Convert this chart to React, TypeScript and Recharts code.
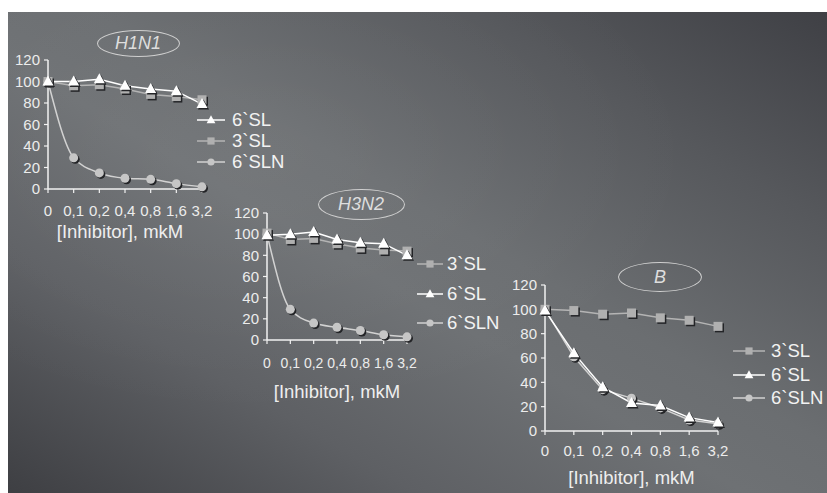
import { Line, LineChart, XAxis, YAxis } from "recharts";

const concentrations = ["0", "0,1", "0,2", "0,4", "0,8", "1,6", "3,2"];
const yTicks = [0, 20, 40, 60, 80, 100, 120];

// H1N1
const h1n1Sl6 = [100, 100, 102, 96, 93, 91, 79];
const h1n1Sl3 = [100, 96, 97, 93, 88, 86, 83];
const h1n1Sln6 = [100, 29, 15, 10, 9, 5, 2];

// H3N2
const h3n2Sl3 = [101, 95, 96, 91, 87, 85, 84];
const h3n2Sl6 = [99, 100, 102, 95, 92, 91, 80];
const h3n2Sln6 = [100, 29, 16, 12, 9, 5, 3];

// B
const bSl3 = [100, 99, 96, 97, 93, 91, 86];
const bSl6 = [99, 64, 36, 23, 21, 11, 7];
const bSln6 = [100, 61, 34, 27, 19, 9, 6];

const FONT = '"Liberation Sans", Arial, Helvetica, sans-serif';
const SHADOW = "#232427";

type Shape = "triangle" | "square" | "circle";
type SeriesKey = "sl6" | "sl3" | "sln6";

const seriesStyle: Record<SeriesKey, { name: string; stroke: string; fill: string; shape: Shape }> = {
  sl6: { name: "6`SL", stroke: "#ffffff", fill: "#ffffff", shape: "triangle" },
  sl3: { name: "3`SL", stroke: "#b4b4b4", fill: "#b0b0b0", shape: "square" },
  sln6: { name: "6`SLN", stroke: "#d2d2d2", fill: "#c6c6c6", shape: "circle" },
};

function MarkerShape({
  cx,
  cy,
  shape,
  fill,
  size = 1,
  shadow = true,
}: {
  cx: number;
  cy: number;
  shape: Shape;
  fill: string;
  size?: number;
  shadow?: boolean;
}) {
  const draw = (x: number, y: number, color: string) => {
    if (shape === "triangle") {
      return (
        <polygon
          points={`${x},${y - 6 * size} ${x - 5.5 * size},${y + 4 * size} ${x + 5.5 * size},${y + 4 * size}`}
          fill={color}
        />
      );
    }
    if (shape === "square") {
      const h = 4.5 * size;
      return <rect x={x - h} y={y - h} width={2 * h} height={2 * h} fill={color} />;
    }
    return <circle cx={x} cy={y} r={4.5 * size} fill={color} />;
  };
  return (
    <g>
      {shadow && draw(cx + 1.5, cy + 1.5, SHADOW)}
      {draw(cx, cy, fill)}
    </g>
  );
}

type Panel = {
  title: string;
  axisX: number;
  plotTop: number;
  plotW: number;
  plotH: number;
  tickGap: number;
  xTickFont: number;
  axisH: number;
  labelDx: number;
  a: number[];
  b: number[];
  c: number[];
  curved: boolean;
  legendOrder: SeriesKey[];
  legend: { x1: number; x2: number; textX: number; rows: number[] };
  ellipse: { cx: number; cy: number; w: number; h: number };
};

const panels: Panel[] = [
  {
    title: "H1N1",
    axisX: 48,
    plotTop: 60,
    plotW: 154,
    plotH: 129,
    tickGap: 12,
    xTickFont: 15,
    axisH: 49,
    labelDx: -5,
    a: h1n1Sl6,
    b: h1n1Sl3,
    c: h1n1Sln6,
    curved: true,
    legendOrder: ["sl6", "sl3", "sln6"],
    legend: { x1: 197, x2: 225, textX: 232, rows: [120, 141, 162] },
    ellipse: { cx: 138, cy: 43, w: 83, h: 27 },
  },
  {
    title: "H3N2",
    axisX: 267,
    plotTop: 213,
    plotW: 140,
    plotH: 127,
    tickGap: 14,
    xTickFont: 14,
    axisH: 58,
    labelDx: 0,
    a: h3n2Sl6,
    b: h3n2Sl3,
    c: h3n2Sln6,
    curved: true,
    legendOrder: ["sl3", "sl6", "sln6"],
    legend: { x1: 417, x2: 443, textX: 447, rows: [264, 294, 323] },
    ellipse: { cx: 361, cy: 204, w: 87, h: 31 },
  },
  {
    title: "B",
    axisX: 545,
    plotTop: 285,
    plotW: 173,
    plotH: 146,
    tickGap: 10,
    xTickFont: 15,
    axisH: 53,
    labelDx: 0,
    a: bSl6,
    b: bSl3,
    c: bSln6,
    curved: false,
    legendOrder: ["sl3", "sl6", "sln6"],
    legend: { x1: 733, x2: 765, textX: 771, rows: [351, 375, 398] },
    ellipse: { cx: 660, cy: 277, w: 84, h: 30 },
  },
];

const Y_AXIS_W = 40;
const TOP_PAD = 10;

function PanelChart({ p }: { p: Panel }) {
  const data = concentrations.map((c, i) => ({ c, sl6: p.a[i], sl3: p.b[i], sln6: p.c[i] }));
  const width = Y_AXIS_W + p.plotW + 14;
  const height = TOP_PAD + p.plotH + p.axisH + 8;
  const drawOrder: SeriesKey[] = ["sln6", "sl3", "sl6"];

  return (
    <>
      <div style={{ position: "absolute", left: p.axisX - Y_AXIS_W, top: p.plotTop - TOP_PAD }}>
        <LineChart width={width} height={height} data={data} margin={{ top: TOP_PAD, right: 14, bottom: 8, left: 0 }}>
          <XAxis
            dataKey="c"
            interval={0}
            height={p.axisH}
            tickSize={4}
            tickMargin={p.tickGap}
            axisLine={{ stroke: "#f2f2f2", strokeWidth: 1.5 }}
            tickLine={{ stroke: "#f2f2f2", strokeWidth: 1.2 }}
            tick={{ fill: "#ececec", fontSize: p.xTickFont, fontFamily: FONT }}
            label={{
              value: "[Inhibitor], mkM",
              position: "insideBottom",
              offset: 0,
              dx: p.labelDx,
              fill: "#eeeeee",
              fontSize: 18.5,
              fontFamily: FONT,
            }}
          />
          <YAxis
            width={Y_AXIS_W}
            domain={[0, 120]}
            ticks={yTicks}
            interval={0}
            tickSize={4}
            tickMargin={4}
            axisLine={{ stroke: "#f2f2f2", strokeWidth: 1.5 }}
            tickLine={{ stroke: "#f2f2f2", strokeWidth: 1.2 }}
            tick={{ fill: "#ececec", fontSize: 15, fontFamily: FONT }}
          />
          {drawOrder.map((k) => {
            const s = seriesStyle[k];
            return (
              <Line
                key={k}
                dataKey={k}
                name={s.name}
                type={k === "sln6" && p.curved ? "monotone" : "linear"}
                stroke={s.stroke}
                strokeWidth={1.5}
                isAnimationActive={false}
                dot={(d: any) => (
                  <MarkerShape key={`${k}-${d.index}`} cx={d.cx} cy={d.cy} shape={s.shape} fill={s.fill} />
                )}
                activeDot={false}
              />
            );
          })}
        </LineChart>
      </div>

      {/* oval title */}
      <div
        style={{
          position: "absolute",
          left: p.ellipse.cx - p.ellipse.w / 2,
          top: p.ellipse.cy - p.ellipse.h / 2,
          width: p.ellipse.w,
          height: p.ellipse.h,
          boxSizing: "border-box",
          border: "1.5px solid #cfcfcf",
          borderRadius: "50%",
          display: "flex",
          alignItems: "center",
          justifyContent: "center",
          color: "#dedede",
          fontStyle: "italic",
          fontSize: 18,
          fontFamily: FONT,
        }}
      >
        {p.title}
      </div>

      {/* legend */}
      {p.legendOrder.map((k, i) => {
        const s = seriesStyle[k];
        const y = p.legend.rows[i];
        const w = p.legend.x2 - p.legend.x1;
        return (
          <div key={k}>
            <svg
              width={w}
              height={16}
              style={{ position: "absolute", left: p.legend.x1, top: y - 8, overflow: "visible" }}
            >
              <line x1={0} y1={8} x2={w} y2={8} stroke={s.stroke} strokeWidth={1.5} />
              <MarkerShape cx={w / 2} cy={8} shape={s.shape} fill={s.fill} size={0.8} shadow={false} />
            </svg>
            <span
              style={{
                position: "absolute",
                left: p.legend.textX,
                top: y - 9,
                lineHeight: "18px",
                fontSize: 18.5,
                fontFamily: FONT,
                color: "#f2f2f2",
                whiteSpace: "nowrap",
              }}
            >
              {s.name}
            </span>
          </div>
        );
      })}
    </>
  );
}

export default function App() {
  return (
    <div
      style={{
        position: "absolute",
        left: 0,
        top: 0,
        width: 827,
        height: 493,
        background: "#ffffff",
        overflow: "hidden",
      }}
    >
      <div
        style={{
          position: "absolute",
          left: 8,
          top: 12,
          right: 0,
          bottom: 0,
          background:
            "radial-gradient(ellipse at 30% 30%, rgba(255,255,255,0.05), rgba(255,255,255,0) 55%), linear-gradient(to bottom left, #3f4045 0%, #56585c 22%, #6b6e71 45%, #6e7174 55%, #5e6064 75%, #3e3f43 100%)",
        }}
      />
      {panels.map((p) => (
        <PanelChart key={p.title} p={p} />
      ))}
    </div>
  );
}
